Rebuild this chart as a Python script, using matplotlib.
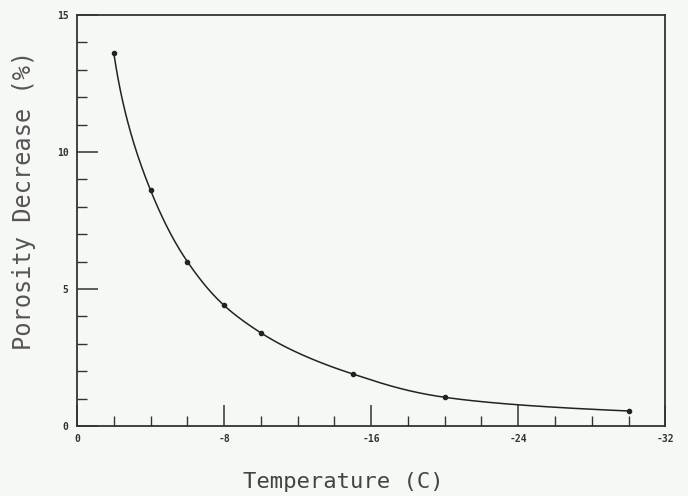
import numpy as np
import matplotlib
matplotlib.use("Agg")
import matplotlib.pyplot as plt
from matplotlib.ticker import MultipleLocator

# temperature (C) and porosity decrease (%)
temp = [-2, -4, -6, -8, -10, -15, -20, -30]
porosity = [13.6, 8.6, 6.0, 4.4, 3.4, 1.9, 1.05, 0.55]

x_ticks = [0, -8, -16, -24, -32]
y_ticks = [0, 5, 10, 15]


def smooth(xs, ys, n=400):
    # monotone cubic (Fritsch-Carlson) for drawing the connecting curve
    xs = np.asarray(xs, float)
    ys = np.asarray(ys, float)
    h = np.diff(xs)
    d = np.diff(ys) / h
    m = np.zeros_like(ys)
    m[0], m[-1] = d[0], d[-1]
    for i in range(1, len(xs) - 1):
        if d[i - 1] * d[i] > 0:
            w1 = 2 * h[i] + h[i - 1]
            w2 = h[i] + 2 * h[i - 1]
            m[i] = (w1 + w2) / (w1 / d[i - 1] + w2 / d[i])
    xx = np.linspace(xs[0], xs[-1], n)
    idx = np.clip(np.searchsorted(xs, xx) - 1, 0, len(xs) - 2)
    t = (xx - xs[idx]) / h[idx]
    h00 = 2 * t**3 - 3 * t**2 + 1
    h10 = t**3 - 2 * t**2 + t
    h01 = -2 * t**3 + 3 * t**2
    h11 = t**3 - t**2
    yy = (h00 * ys[idx] + h10 * h[idx] * m[idx]
          + h01 * ys[idx + 1] + h11 * h[idx] * m[idx + 1])
    return xx, yy


bg = "#f6f8f5"
fig = plt.figure(figsize=(6.88, 4.96), dpi=100, facecolor=bg)
ax = fig.add_axes([0.112, 0.141, 0.855, 0.829], facecolor=bg)

# smooth curve drawn in log-log space so it stays convex
lx = np.log(-np.array(temp, float))
ly = np.log(np.array(porosity, float))
cx, cy = smooth(lx, ly)
ax.plot(-np.exp(cx), np.exp(cy), color="#222222", lw=1.1)
ax.plot(temp, porosity, "o", color="#222222", ms=3)

ax.set_xlim(0, -32)
ax.set_ylim(0, 15)
ax.set_xticks(x_ticks)
ax.set_xticklabels([str(v) for v in x_ticks])
ax.set_yticks(y_ticks)
ax.xaxis.set_minor_locator(MultipleLocator(2))
ax.yaxis.set_minor_locator(MultipleLocator(1))
ax.tick_params(which="major", direction="in", length=15, width=1.1,
               labelsize=7, pad=6, color="#333333", labelcolor="#333333")
ax.tick_params(which="minor", direction="in", length=7, width=1.0,
               color="#333333")
for lab in ax.get_xticklabels() + ax.get_yticklabels():
    lab.set_fontfamily("DejaVu Sans Mono")
    lab.set_fontweight("bold")
for s in ax.spines.values():
    s.set_linewidth(1.3)
    s.set_color("#333333")

ax.set_xlabel("Temperature (C)", fontsize=16, family="DejaVu Sans Mono",
              color="#444444")
ax.set_ylabel("Porosity Decrease (%)", fontsize=17, family="DejaVu Sans Mono",
              color="#555555")
ax.xaxis.set_label_coords(0.452, -0.112)
ax.yaxis.set_label_coords(-0.07, 0.55)

fig.savefig("out.png", dpi=100, facecolor=bg)
